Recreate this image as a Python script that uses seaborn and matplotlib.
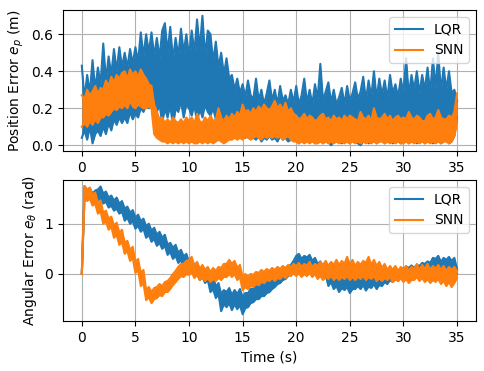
import numpy as np
import matplotlib
matplotlib.use('Agg')
import matplotlib.pyplot as plt
import seaborn as sns

# time axis, 0.25 s steps from 0 to 35 s
time = np.arange(141) * 0.25

# position error e_p (m): lower / upper edge of the noisy trace
pos_lqr_hi = [0.43, 0.25, 0.38, 0.28, 0.46, 0.30, 0.42, 0.33,
              0.55, 0.35, 0.48, 0.38, 0.52, 0.40, 0.53, 0.42,
              0.50, 0.42, 0.52, 0.44, 0.53, 0.45, 0.61, 0.48,
              0.60, 0.50, 0.61, 0.48, 0.58, 0.47, 0.62, 0.66,
              0.50, 0.64, 0.46, 0.58, 0.48, 0.63, 0.50, 0.60,
              0.48, 0.62, 0.50, 0.68, 0.52, 0.70, 0.48, 0.62,
              0.60, 0.45, 0.56, 0.42, 0.50, 0.38, 0.47, 0.36,
              0.38, 0.30, 0.36, 0.28, 0.33, 0.26, 0.35, 0.27,
              0.25, 0.36, 0.24, 0.30, 0.22, 0.28, 0.35, 0.24,
              0.30, 0.22, 0.32, 0.24, 0.27, 0.22, 0.30, 0.23,
              0.32, 0.22, 0.27, 0.36, 0.23, 0.30, 0.22, 0.33,
              0.25, 0.44, 0.24, 0.29, 0.34, 0.23, 0.30, 0.22,
              0.26, 0.31, 0.22, 0.32, 0.24, 0.28, 0.34, 0.25,
              0.29, 0.37, 0.24, 0.35, 0.26, 0.40, 0.25, 0.36,
              0.27, 0.35, 0.25, 0.38, 0.28, 0.33, 0.26, 0.36,
              0.28, 0.47, 0.27, 0.38, 0.30, 0.40, 0.28, 0.38,
              0.30, 0.42, 0.28, 0.47, 0.31, 0.50, 0.29, 0.42,
              0.30, 0.40, 0.28, 0.30, 0.24]
pos_lqr_lo = [0.04, 0.08, 0.03, 0.10, 0.01, 0.06, 0.08, 0.05,
              0.10, 0.06, 0.12, 0.08, 0.14, 0.11, 0.15, 0.12,
              0.15, 0.12, 0.18, 0.14, 0.17, 0.15, 0.20, 0.18,
              0.22, 0.20, 0.24, 0.20, 0.18, 0.22, 0.12, 0.20,
              0.15, 0.22, 0.10, 0.20, 0.18, 0.24, 0.15, 0.22,
              0.20, 0.16, 0.22, 0.12, 0.20, 0.15, 0.22, 0.18,
              0.16, 0.20, 0.14, 0.15, 0.12, 0.10, 0.12, 0.08,
              0.08, 0.06, 0.07, 0.05, 0.06, 0.04, 0.05, 0.04,
              0.04, 0.03, 0.05, 0.02, 0.04, 0.03, 0.05, 0.03,
              0.04, 0.02, 0.05, 0.03, 0.04, 0.02, 0.03, 0.04,
              0.03, 0.01, 0.03, 0.02, 0.04, 0.02, 0.03, 0.01,
              0.02, 0.03, 0.01, 0.03, 0.02, 0.00, 0.02, 0.03,
              0.02, 0.01, 0.03, 0.02, 0.01, 0.03, 0.02, 0.01,
              0.00, 0.02, 0.03, 0.01, 0.02, 0.03, 0.01, 0.02,
              0.03, 0.01, 0.02, 0.03, 0.01, 0.02, 0.03, 0.01,
              0.02, 0.03, 0.01, 0.02, 0.03, 0.01, 0.02, 0.03,
              0.01, 0.02, 0.03, 0.01, 0.02, 0.03, 0.01, 0.02,
              0.03, 0.01, 0.02, 0.05, 0.15]
pos_snn_hi = [0.27, 0.25, 0.30, 0.27, 0.29, 0.32, 0.28, 0.31,
              0.30, 0.35, 0.32, 0.37, 0.34, 0.38, 0.36, 0.39,
              0.40, 0.36, 0.41, 0.38, 0.40, 0.37, 0.41, 0.38,
              0.36, 0.33, 0.32, 0.22, 0.18, 0.14, 0.15, 0.12,
              0.14, 0.12, 0.15, 0.13, 0.12, 0.14, 0.12, 0.15,
              0.13, 0.15, 0.12, 0.17, 0.13, 0.12, 0.15, 0.13,
              0.16, 0.13, 0.14, 0.20, 0.15, 0.13, 0.16, 0.14,
              0.17, 0.15, 0.18, 0.16, 0.22, 0.18, 0.19, 0.17,
              0.20, 0.18, 0.21, 0.19, 0.22, 0.20, 0.19, 0.21,
              0.24, 0.20, 0.22, 0.19, 0.23, 0.18, 0.20, 0.17,
              0.16, 0.14, 0.15, 0.17, 0.14, 0.16, 0.15, 0.13,
              0.14, 0.16, 0.17, 0.14, 0.15, 0.13, 0.16, 0.14,
              0.15, 0.13, 0.16, 0.14, 0.16, 0.15, 0.14, 0.13,
              0.18, 0.15, 0.14, 0.16, 0.13, 0.20, 0.15, 0.14,
              0.15, 0.17, 0.14, 0.16, 0.13, 0.15, 0.16, 0.14,
              0.15, 0.14, 0.18, 0.15, 0.14, 0.16, 0.15, 0.13,
              0.13, 0.16, 0.17, 0.14, 0.15, 0.19, 0.15, 0.14,
              0.14, 0.16, 0.15, 0.18, 0.28]
pos_snn_lo = [0.10, 0.12, 0.10, 0.13, 0.11, 0.14, 0.12, 0.15,
              0.15, 0.17, 0.16, 0.18, 0.20, 0.19, 0.21, 0.20,
              0.22, 0.20, 0.24, 0.21, 0.20, 0.22, 0.21, 0.20,
              0.20, 0.21, 0.20, 0.06, 0.04, 0.03, 0.02, 0.02,
              0.01, 0.02, 0.01, 0.02, 0.01, 0.02, 0.01, 0.02,
              0.01, 0.02, 0.01, 0.01, 0.02, 0.01, 0.02, 0.01,
              0.02, 0.01, 0.02, 0.03, 0.02, 0.01, 0.02, 0.03,
              0.03, 0.04, 0.03, 0.04, 0.03, 0.05, 0.04, 0.03,
              0.04, 0.05, 0.04, 0.03, 0.05, 0.04, 0.05, 0.04,
              0.05, 0.04, 0.05, 0.03, 0.04, 0.05, 0.03, 0.02,
              0.02, 0.01, 0.02, 0.01, 0.02, 0.01, 0.02, 0.01,
              0.01, 0.02, 0.01, 0.02, 0.01, 0.02, 0.01, 0.02,
              0.01, 0.02, 0.01, 0.02, 0.01, 0.02, 0.01, 0.02,
              0.01, 0.02, 0.01, 0.02, 0.01, 0.02, 0.01, 0.02,
              0.02, 0.01, 0.02, 0.01, 0.02, 0.01, 0.02, 0.01,
              0.01, 0.02, 0.01, 0.02, 0.01, 0.02, 0.01, 0.02,
              0.01, 0.02, 0.01, 0.02, 0.01, 0.02, 0.01, 0.02,
              0.02, 0.01, 0.02, 0.05, 0.12]

# angular error e_theta (rad)
ang_lqr_hi = [0.00, 1.75, 1.66, 1.70, 1.60, 1.66, 1.68, 1.74,
              1.60, 1.64, 1.52, 1.56, 1.46, 1.52, 1.40, 1.45,
              1.30, 1.34, 1.22, 1.27, 1.12, 1.18, 1.05, 1.10,
              0.95, 1.00, 0.86, 0.92, 0.78, 0.84, 0.72, 0.78,
              0.58, 0.62, 0.52, 0.58, 0.42, 0.48, 0.35, 0.40,
              0.24, 0.30, 0.16, 0.22, 0.08, 0.14, 0.02, 0.08,
              -0.12, -0.06, -0.25, -0.18, -0.40, -0.32, -0.36, -0.28,
              -0.42, -0.32, -0.40, -0.30, -0.46, -0.38, -0.38, -0.30,
              -0.30, -0.24, -0.25, -0.18, -0.20, -0.14, -0.14, -0.08,
              -0.05, 0.02, 0.00, 0.08, 0.08, 0.15, 0.18, 0.26,
              0.36, 0.40, 0.30, 0.36, 0.33, 0.38, 0.26, 0.32,
              0.20, 0.25, 0.12, 0.18, 0.02, 0.06, -0.06, 0.00,
              -0.10, -0.04, -0.12, -0.02, -0.10, -0.05, -0.08, 0.00,
              -0.06, 0.02, -0.06, 0.02, -0.06, 0.00, -0.04, 0.03,
              -0.02, 0.04, 0.02, 0.08, 0.03, 0.10, 0.05, 0.12,
              0.10, 0.15, 0.12, 0.17, 0.12, 0.18, 0.16, 0.22,
              0.20, 0.25, 0.22, 0.32, 0.30, 0.36, 0.24, 0.32,
              0.28, 0.34, 0.26, 0.32, 0.10]
ang_lqr_lo = [0.00, 1.52, 1.46, 1.50, 1.42, 1.48, 1.46, 1.52,
              1.40, 1.44, 1.32, 1.36, 1.26, 1.30, 1.20, 1.24,
              1.06, 1.12, 1.00, 1.05, 0.90, 0.96, 0.84, 0.90,
              0.72, 0.78, 0.64, 0.70, 0.56, 0.62, 0.50, 0.56,
              0.38, 0.44, 0.30, 0.36, 0.22, 0.28, 0.14, 0.20,
              0.04, 0.10, -0.04, 0.02, -0.12, -0.06, -0.18, -0.12,
              -0.36, -0.30, -0.48, -0.40, -0.74, -0.60, -0.66, -0.58,
              -0.72, -0.60, -0.70, -0.62, -0.80, -0.68, -0.66, -0.58,
              -0.56, -0.50, -0.50, -0.44, -0.44, -0.38, -0.36, -0.30,
              -0.26, -0.20, -0.18, -0.12, -0.10, -0.04, 0.00, 0.06,
              0.12, 0.16, 0.08, 0.14, 0.08, 0.12, 0.04, 0.08,
              -0.02, 0.04, -0.08, -0.02, -0.24, -0.16, -0.30, -0.24,
              -0.36, -0.28, -0.32, -0.26, -0.38, -0.30, -0.30, -0.24,
              -0.30, -0.22, -0.33, -0.25, -0.28, -0.20, -0.30, -0.22,
              -0.24, -0.16, -0.20, -0.12, -0.16, -0.10, -0.14, -0.08,
              -0.12, -0.06, -0.08, -0.02, -0.10, -0.04, -0.02, 0.04,
              0.00, 0.06, 0.02, 0.10, 0.02, 0.08, 0.03, 0.10,
              0.04, 0.10, 0.00, 0.06, 0.00]
ang_snn_hi = [0.00, 1.75, 1.68, 1.72, 1.58, 1.62, 1.42, 1.46,
              1.22, 1.26, 1.10, 1.14, 0.96, 1.02, 0.82, 0.88,
              0.62, 0.66, 0.48, 0.54, 0.24, 0.30, 0.02, 0.08,
              -0.32, -0.26, -0.36, -0.28, -0.26, -0.20, -0.24, -0.16,
              -0.14, -0.08, 0.00, 0.06, 0.14, 0.20, 0.20, 0.26,
              0.28, 0.34, 0.16, 0.24, 0.10, 0.18, 0.08, 0.14,
              0.04, 0.12, 0.06, 0.14, 0.12, 0.20, 0.20, 0.28,
              0.20, 0.26, 0.12, 0.18, -0.06, 0.00, -0.06, 0.00,
              -0.02, 0.04, 0.02, 0.08, 0.04, 0.10, 0.06, 0.12,
              0.08, 0.14, 0.10, 0.16, 0.12, 0.18, 0.14, 0.20,
              0.16, 0.22, 0.14, 0.20, 0.16, 0.24, 0.14, 0.20,
              0.16, 0.24, 0.18, 0.26, 0.16, 0.24, 0.18, 0.28,
              0.18, 0.26, 0.20, 0.34, 0.18, 0.28, 0.16, 0.24,
              0.18, 0.26, 0.22, 0.34, 0.18, 0.28, 0.16, 0.24,
              0.12, 0.20, 0.08, 0.16, 0.08, 0.16, 0.06, 0.14,
              0.08, 0.16, 0.06, 0.14, 0.10, 0.20, 0.08, 0.18,
              0.10, 0.20, 0.08, 0.16, 0.10, 0.18, 0.08, 0.16,
              0.06, 0.14, 0.08, 0.14, 0.06]
ang_snn_lo = [0.00, 1.50, 1.46, 1.50, 1.36, 1.40, 1.20, 1.25,
              1.00, 1.05, 0.88, 0.94, 0.72, 0.78, 0.58, 0.64,
              0.40, 0.46, 0.26, 0.32, 0.02, 0.08, -0.24, -0.18,
              -0.52, -0.46, -0.58, -0.50, -0.48, -0.42, -0.44, -0.36,
              -0.36, -0.30, -0.22, -0.16, -0.10, -0.04, -0.06, 0.00,
              -0.02, 0.04, -0.08, -0.02, -0.12, -0.06, -0.14, -0.08,
              -0.16, -0.10, -0.14, -0.08, -0.12, -0.06, -0.06, 0.00,
              -0.06, 0.00, -0.12, -0.06, -0.32, -0.26, -0.30, -0.24,
              -0.26, -0.20, -0.22, -0.16, -0.18, -0.12, -0.14, -0.08,
              -0.14, -0.08, -0.10, -0.04, -0.08, -0.02, -0.04, 0.02,
              -0.04, 0.02, -0.06, 0.00, -0.04, 0.02, -0.06, 0.00,
              -0.10, -0.04, -0.12, -0.06, -0.10, -0.04, -0.12, -0.06,
              -0.12, -0.06, -0.10, -0.04, -0.12, -0.06, -0.12, -0.06,
              -0.10, -0.04, -0.12, -0.06, -0.10, -0.04, -0.14, -0.08,
              -0.14, -0.08, -0.12, -0.06, -0.16, -0.10, -0.14, -0.08,
              -0.16, -0.10, -0.18, -0.12, -0.12, -0.06, -0.14, -0.08,
              -0.16, -0.10, -0.18, -0.12, -0.16, -0.10, -0.20, -0.14,
              -0.24, -0.16, -0.26, -0.18, -0.08]

controllers = ['LQR', 'SNN']
colors = {'LQR': '#1f77b4', 'SNN': '#ff7f0e'}

fig, (ax1, ax2) = plt.subplots(2, 1, figsize=(4.85, 3.71), dpi=100)
plt.subplots_adjust(left=0.13, right=0.981, top=0.973, bottom=0.135, hspace=0.206)


def draw_band(ax, name, lo, hi, z):
    c = colors[name]
    ax.fill_between(time, lo, hi, color=c, lw=0, zorder=z)
    sns.lineplot(x=time, y=hi, color=c, lw=1.5, label=name, zorder=z, ax=ax)
    sns.lineplot(x=time, y=lo, color=c, lw=1.5, zorder=z, ax=ax)


draw_band(ax1, 'LQR', pos_lqr_lo, pos_lqr_hi, 2)
draw_band(ax1, 'SNN', pos_snn_lo, pos_snn_hi, 3)
draw_band(ax2, 'LQR', ang_lqr_lo, ang_lqr_hi, 2)
draw_band(ax2, 'SNN', ang_snn_lo, ang_snn_hi, 3)

ax1.set_xlim(-1.75, 36.75)
ax2.set_xlim(-1.75, 36.75)
ax1.set_ylim(-0.031, 0.731)
ax2.set_ylim(-0.934, 1.87)
ax1.set_yticks([0.0, 0.2, 0.4, 0.6])
ax2.set_yticks([0, 1])

ax1.set_xlabel('')
ax1.set_ylabel('Position Error $e_p$ (m)')
ax2.set_xlabel('Time (s)')
ax2.set_ylabel(r'Angular Error $e_\theta$ (rad)')

for ax in (ax1, ax2):
    ax.grid(True, color='#b0b0b0', lw=0.8)
    ax.set_axisbelow(True)
    ax.legend(loc='upper right')

fig.savefig('out.png', dpi=100)
